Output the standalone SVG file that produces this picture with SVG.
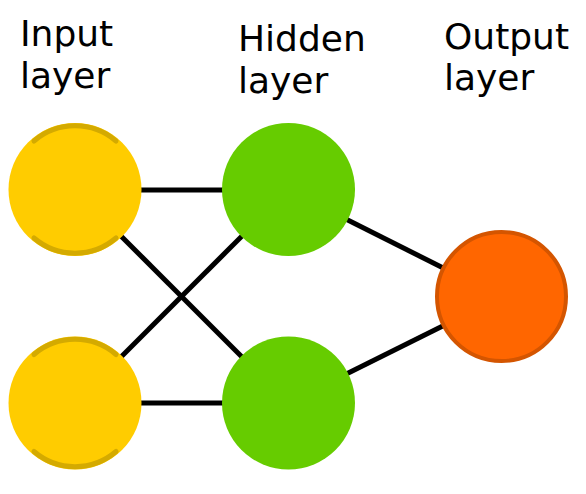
<svg xmlns="http://www.w3.org/2000/svg" width="586" height="494" viewBox="0 0 586 494">
<style>
text{font-family:"DejaVu Sans",sans-serif;font-size:36px;fill:#000}
.c{stroke:#000;stroke-width:5;fill:none}
.in{fill:#ffcc00}
.arc{fill:none;stroke:#d4aa00;stroke-width:5;stroke-linecap:round}
.hid{fill:#66cc00}
.out{fill:#ff6600;stroke:#d45500;stroke-width:4}
</style>
<g id="labels">
<text x="20" y="46">Input</text><text x="20" y="88">layer</text>
<text x="238" y="51">Hidden</text><text x="238" y="93">layer</text>
<text x="444" y="49">Output</text><text x="444" y="90">layer</text>
</g>
<g id="connectors">
<line class="c" x1="75" y1="190" x2="288" y2="190"/>
<line class="c" x1="75" y1="190" x2="288" y2="403"/>
<line class="c" x1="75" y1="403" x2="288" y2="190"/>
<line class="c" x1="75" y1="403" x2="288" y2="403"/>
<line class="c" x1="288" y1="190" x2="501" y2="297"/>
<line class="c" x1="288" y1="403" x2="501" y2="297"/>
</g>
<g id="input1">
<circle class="in" cx="75" cy="189.5" r="66.5"/>
<path class="arc" d="M34,141 A63,63 0 0 1 116,141 M34,238 A63,63 0 0 0 116,238"/>
</g>
<g id="input2">
<circle class="in" cx="75" cy="403" r="66.5"/>
<path class="arc" d="M34,354.5 A63,63 0 0 1 116,354.5 M34,451.5 A63,63 0 0 0 116,451.5"/>
</g>
<g id="hidden1"><circle class="hid" cx="288.5" cy="189.5" r="66.5"/></g>
<g id="hidden2"><circle class="hid" cx="288.5" cy="403" r="66.5"/></g>
<g id="output"><circle class="out" cx="501.5" cy="296.5" r="64.5"/></g>
</svg>
